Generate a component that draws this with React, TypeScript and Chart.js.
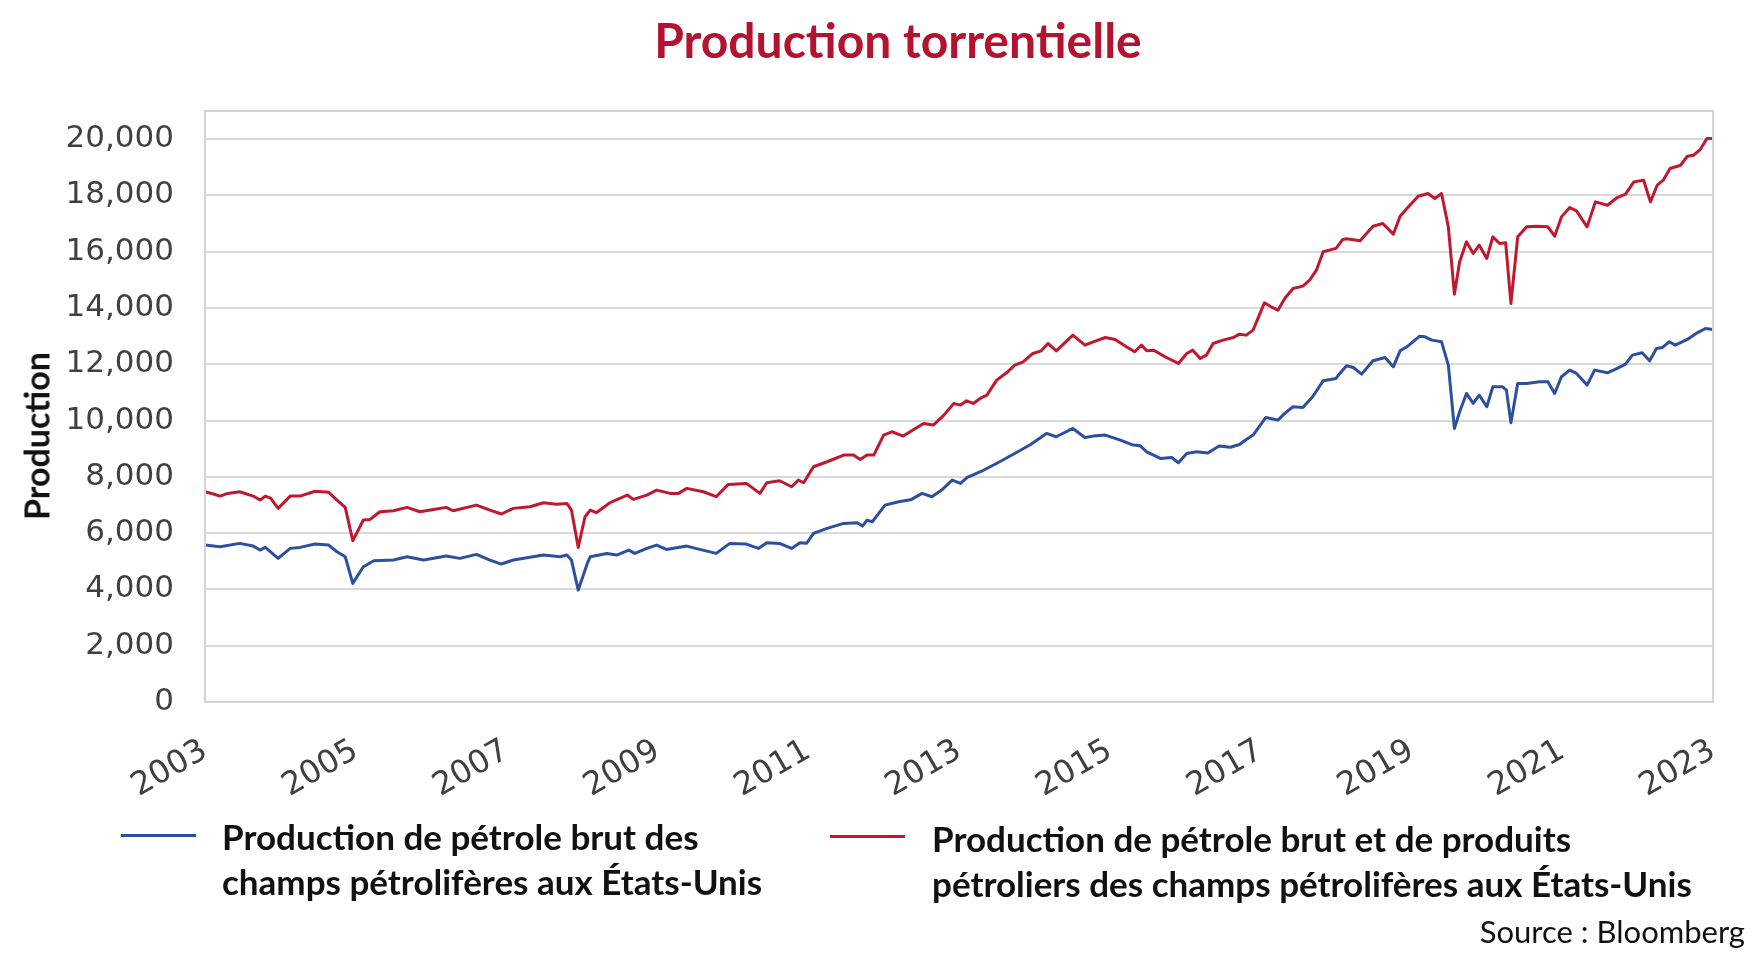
import React, { useEffect, useRef } from "react";
import { Chart, registerables } from "chart.js";

Chart.register(...registerables);

const TITLE = "Production torrentielle";
const Y_AXIS_TITLE = "Production";
const SOURCE = "Source : Bloomberg";
const BLUE_LABEL = ["Production de pétrole brut des", "champs pétrolifères aux États-Unis"];
const RED_LABEL = ["Production de pétrole brut et de produits", "pétroliers des champs pétrolifères aux États-Unis"];

const X_MIN = 2003;
const X_MAX = 2023;
const X_TICKS = [2003, 2005, 2007, 2009, 2011, 2013, 2015, 2017, 2019, 2021, 2023];
const Y_MIN = 0;
const Y_MAX = 21000;
const Y_TICKS = [0, 2000, 4000, 6000, 8000, 10000, 12000, 14000, 16000, 18000, 20000];

const BLUE = "#2C4FA0";
const RED = "#C0182F";

// Crude oil production (decimal year, value)
const blueYears = [
  2003.0, 2003.2, 2003.46, 2003.64, 2003.73, 2003.8, 2003.97, 2004.13, 2004.26, 2004.46,
  2004.64, 2004.75, 2004.86, 2004.96, 2005.1, 2005.24, 2005.5, 2005.68, 2005.9, 2006.2,
  2006.38, 2006.6, 2006.78, 2006.93, 2007.09, 2007.49, 2007.71, 2007.8, 2007.86, 2007.95,
  2008.07, 2008.11, 2008.33, 2008.46, 2008.62, 2008.7, 2008.86, 2008.99, 2009.12, 2009.39,
  2009.56, 2009.78, 2009.96, 2010.18, 2010.34, 2010.45, 2010.62, 2010.78, 2010.89, 2010.98,
  2011.07, 2011.25, 2011.47, 2011.65, 2011.72, 2011.78, 2011.85, 2012.02, 2012.2, 2012.37,
  2012.51, 2012.64, 2012.78, 2012.91, 2013.02, 2013.11, 2013.3, 2013.54, 2013.75, 2013.95,
  2014.16, 2014.29, 2014.51, 2014.67, 2014.78, 2014.94, 2015.14, 2015.31, 2015.4, 2015.49,
  2015.67, 2015.82, 2015.91, 2016.02, 2016.15, 2016.3, 2016.45, 2016.6, 2016.72, 2016.81,
  2016.9, 2016.98, 2017.07, 2017.23, 2017.32, 2017.43, 2017.56, 2017.69, 2017.83, 2018.0,
  2018.05, 2018.14, 2018.23, 2018.34, 2018.49, 2018.65, 2018.76, 2018.85, 2018.94, 2019.11,
  2019.18, 2019.27, 2019.4, 2019.49, 2019.57, 2019.64, 2019.73, 2019.82, 2019.9, 2020.0,
  2020.08, 2020.21, 2020.26, 2020.32, 2020.41, 2020.53, 2020.7, 2020.81, 2020.9, 2020.99,
  2021.1, 2021.19, 2021.33, 2021.43, 2021.6, 2021.73, 2021.84, 2021.93, 2022.06, 2022.16,
  2022.25, 2022.33, 2022.42, 2022.5, 2022.66, 2022.79, 2022.9, 2023.0,
];
const blueValues = [
  5577, 5518, 5636, 5540, 5399, 5494, 5103, 5459, 5494, 5612,
  5577, 5340, 5162, 4215, 4807, 5020, 5044, 5162, 5044, 5186,
  5103, 5245, 5044, 4902, 5044, 5221, 5162, 5221, 5044, 3978,
  4925, 5162, 5280, 5221, 5398, 5280, 5457, 5576, 5422, 5540,
  5422, 5280, 5635, 5611, 5457, 5659, 5635, 5457, 5659, 5640,
  5991, 6168, 6346, 6370, 6251, 6465, 6406, 6997, 7116, 7199,
  7412, 7294, 7554, 7886, 7767, 7980, 8200, 8536, 8850, 9150,
  9543, 9425, 9721, 9401, 9448, 9484, 9307, 9129, 9106, 8891,
  8655, 8690, 8500, 8833, 8891, 8850, 9100, 9050, 9150, 9330,
  9484, 9780, 10112, 10017, 10254, 10491, 10467, 10846, 11413, 11497,
  11674, 11950, 11887, 11650, 12124, 12242, 11910, 12479, 12621, 13000,
  12976, 12858, 12799, 11970, 9721, 10313, 10964, 10609, 10905, 10491,
  11201, 11201, 11083, 9922, 11319, 11319, 11378, 11378, 10964, 11556,
  11793, 11674, 11260, 11793, 11698, 11852, 12006, 12325, 12408, 12124,
  12562, 12598, 12799, 12681, 12882, 13118, 13272, 13237,
];

// Crude oil + petroleum products production (decimal year, value)
const redYears = [
  2003.0, 2003.1, 2003.2, 2003.3, 2003.46, 2003.64, 2003.73, 2003.8, 2003.87, 2003.97,
  2004.13, 2004.26, 2004.46, 2004.64, 2004.75, 2004.86, 2004.96, 2005.1, 2005.19, 2005.32,
  2005.5, 2005.68, 2005.85, 2006.03, 2006.2, 2006.29, 2006.6, 2006.78, 2006.93, 2007.09,
  2007.31, 2007.49, 2007.66, 2007.8, 2007.86, 2007.95, 2008.04, 2008.11, 2008.19, 2008.37,
  2008.6, 2008.68, 2008.86, 2008.99, 2009.17, 2009.28, 2009.39, 2009.61, 2009.78, 2009.94,
  2010.18, 2010.36, 2010.45, 2010.62, 2010.78, 2010.87, 2010.94, 2011.07, 2011.25, 2011.47,
  2011.6, 2011.69, 2011.78, 2011.87, 2012.0, 2012.11, 2012.26, 2012.4, 2012.53, 2012.66,
  2012.8, 2012.93, 2013.02, 2013.1, 2013.19, 2013.28, 2013.37, 2013.5, 2013.63, 2013.74,
  2013.85, 2013.98, 2014.09, 2014.18, 2014.29, 2014.51, 2014.67, 2014.78, 2014.94, 2015.07,
  2015.22, 2015.33, 2015.42, 2015.49, 2015.58, 2015.75, 2015.91, 2016.02, 2016.1, 2016.2,
  2016.28, 2016.37, 2016.5, 2016.64, 2016.72, 2016.81, 2016.9, 2017.05, 2017.14, 2017.23,
  2017.32, 2017.43, 2017.56, 2017.65, 2017.74, 2017.83, 2018.0, 2018.09, 2018.14, 2018.32,
  2018.49, 2018.62, 2018.76, 2018.85, 2018.94, 2019.09, 2019.22, 2019.31, 2019.4, 2019.49,
  2019.57, 2019.64, 2019.73, 2019.82, 2019.9, 2020.0, 2020.08, 2020.17, 2020.25, 2020.32,
  2020.41, 2020.53, 2020.66, 2020.81, 2020.9, 2020.99, 2021.1, 2021.19, 2021.33, 2021.44,
  2021.6, 2021.73, 2021.84, 2021.95, 2022.08, 2022.17, 2022.26, 2022.34, 2022.43, 2022.57,
  2022.66, 2022.74, 2022.83, 2022.92, 2023.0,
];
const redValues = [
  7470, 7400, 7317, 7412, 7470, 7317, 7175, 7317, 7246, 6880,
  7317, 7317, 7490, 7450, 7175, 6915, 5730, 6465, 6488, 6761,
  6795, 6915, 6761, 6840, 6915, 6795, 6997, 6820, 6680, 6880,
  6940, 7080, 7030, 7055, 6820, 5494, 6583, 6820, 6725, 7080,
  7353, 7199, 7353, 7530, 7412, 7412, 7590, 7471, 7294, 7732,
  7767, 7412, 7791, 7862, 7649, 7886, 7791, 8359, 8537, 8773,
  8773, 8620, 8773, 8773, 9484, 9602, 9448, 9686, 9899, 9839,
  10194, 10609, 10550, 10703, 10609, 10786, 10904, 11437, 11697, 11970,
  12088, 12384, 12479, 12740, 12479, 13036, 12681, 12799, 12953, 12882,
  12621, 12444, 12681, 12479, 12502, 12242, 12030, 12384, 12502, 12206,
  12325, 12740, 12858, 12953, 13071, 13036, 13213, 14184, 14042, 13924,
  14338, 14693, 14776, 14989, 15345, 16000, 16118, 16437, 16460, 16386,
  16907, 17001, 16623, 17262, 17534, 17972, 18067, 17890, 18067, 16883,
  14492, 15641, 16351, 15937, 16233, 15760, 16528, 16292, 16315, 14160,
  16528, 16883, 16907, 16883, 16552, 17238, 17570, 17451, 16883, 17771,
  17653, 17925, 18044, 18482, 18541, 17771, 18363, 18541, 18955, 19073,
  19392, 19427, 19629, 20020, 20020,
];

const toPoints = (xs: number[], ys: number[]) => xs.map((x, i) => ({ x, y: ys[i] }));

const plotBorder = {
  id: "plotBorder",
  afterDatasetsDraw(chart: any) {
    const { ctx, chartArea } = chart;
    ctx.save();
    ctx.strokeStyle = "#D4D4D4";
    ctx.lineWidth = 2;
    ctx.strokeRect(chartArea.left, chartArea.top, chartArea.right - chartArea.left, chartArea.bottom - chartArea.top);
    ctx.restore();
  },
};

export default function App() {
  const canvasRef = useRef<HTMLCanvasElement | null>(null);

  useEffect(() => {
    if (!canvasRef.current) return;
    const chart = new Chart(canvasRef.current, {
      type: "line",
      data: {
        datasets: [
          {
            label: BLUE_LABEL.join(" "),
            data: toPoints(blueYears, blueValues),
            borderColor: BLUE,
            backgroundColor: BLUE,
            borderWidth: 3,
            pointRadius: 0,
            tension: 0,
            borderJoinStyle: "round",
          },
          {
            label: RED_LABEL.join(" "),
            data: toPoints(redYears, redValues),
            borderColor: RED,
            backgroundColor: RED,
            borderWidth: 3,
            pointRadius: 0,
            tension: 0,
            borderJoinStyle: "round",
          },
        ],
      },
      options: {
        responsive: false,
        animation: false,
        devicePixelRatio: 1,
        layout: { padding: { top: 111, left: 0, right: 45, bottom: 0 } },
        plugins: {
          legend: { display: false },
          title: { display: false },
          tooltip: { enabled: false },
        },
        scales: {
          x: {
            type: "linear",
            min: X_MIN,
            max: X_MAX,
            grid: { display: false, drawTicks: false },
            border: { display: false },
            ticks: {
              minRotation: 30,
              maxRotation: 30,
              autoSkip: false,
              padding: 30,
              color: "#404040",
              font: { family: "'DejaVu Sans'", size: 32 },
              callback: (v: any) => String(v),
            },
            afterBuildTicks: (s: any) => {
              s.ticks = X_TICKS.map((value) => ({ value }));
            },
            afterFit: (s: any) => {
              s.height = 256;
              s.paddingLeft = 0;
              s.paddingRight = 0;
            },
          },
          y: {
            min: Y_MIN,
            max: Y_MAX,
            grid: { color: "#D9D9D9", lineWidth: 2, drawTicks: false },
            border: { display: false },
            ticks: {
              autoSkip: false,
              padding: 31,
              color: "#404040",
              font: { family: "'DejaVu Sans'", size: 31 },
              callback: (v: any) => Number(v).toLocaleString("en-US"),
            },
            afterBuildTicks: (s: any) => {
              s.ticks = Y_TICKS.map((value) => ({ value }));
            },
            afterFit: (s: any) => {
              s.width = 205;
            },
          },
        },
      },
      plugins: [plotBorder],
    });
    return () => chart.destroy();
  }, []);

  const legendText: React.CSSProperties = {
    position: "absolute",
    fontFamily: "Lato, 'Noto Sans', sans-serif",
    fontWeight: 700,
    fontSize: 35,
    lineHeight: "45px",
    color: "#111",
    whiteSpace: "nowrap",
  };

  return (
    <div style={{ position: "absolute", left: 0, top: 0, width: 1758, height: 958, background: "#fff", overflow: "hidden" }}>
      <canvas ref={canvasRef} width={1758} height={958} style={{ position: "absolute", left: 0, top: 0 }} />
      <div
        style={{
          position: "absolute",
          left: 898,
          top: 39,
          transform: "translate(-50%, -50%)",
          fontFamily: "Lato, 'Noto Sans', sans-serif",
          fontWeight: 700,
          fontSize: 48,
          color: "#B3132E",
          whiteSpace: "nowrap",
        }}
      >
        {TITLE}
      </div>
      <div
        style={{
          position: "absolute",
          left: 36,
          top: 436,
          transform: "translate(-50%, -50%) rotate(-90deg)",
          fontFamily: "Lato, 'Noto Sans', sans-serif",
          fontWeight: 700,
          fontSize: 34,
          color: "#111",
          whiteSpace: "nowrap",
        }}
      >
        {Y_AXIS_TITLE}
      </div>
      <div style={{ position: "absolute", left: 121, top: 834, width: 75, height: 3, background: BLUE }} />
      <div style={{ ...legendText, left: 222, top: 814 }}>
        {BLUE_LABEL[0]}
        <br />
        {BLUE_LABEL[1]}
      </div>
      <div style={{ position: "absolute", left: 830, top: 835, width: 75, height: 3, background: RED }} />
      <div style={{ ...legendText, left: 932, top: 816 }}>
        {RED_LABEL[0]}
        <br />
        {RED_LABEL[1]}
      </div>
      <div
        style={{
          position: "absolute",
          right: 13,
          top: 912,
          fontFamily: "Lato, 'Noto Sans', sans-serif",
          fontSize: 31,
          color: "#111",
          whiteSpace: "nowrap",
        }}
      >
        {SOURCE}
      </div>
    </div>
  );
}
